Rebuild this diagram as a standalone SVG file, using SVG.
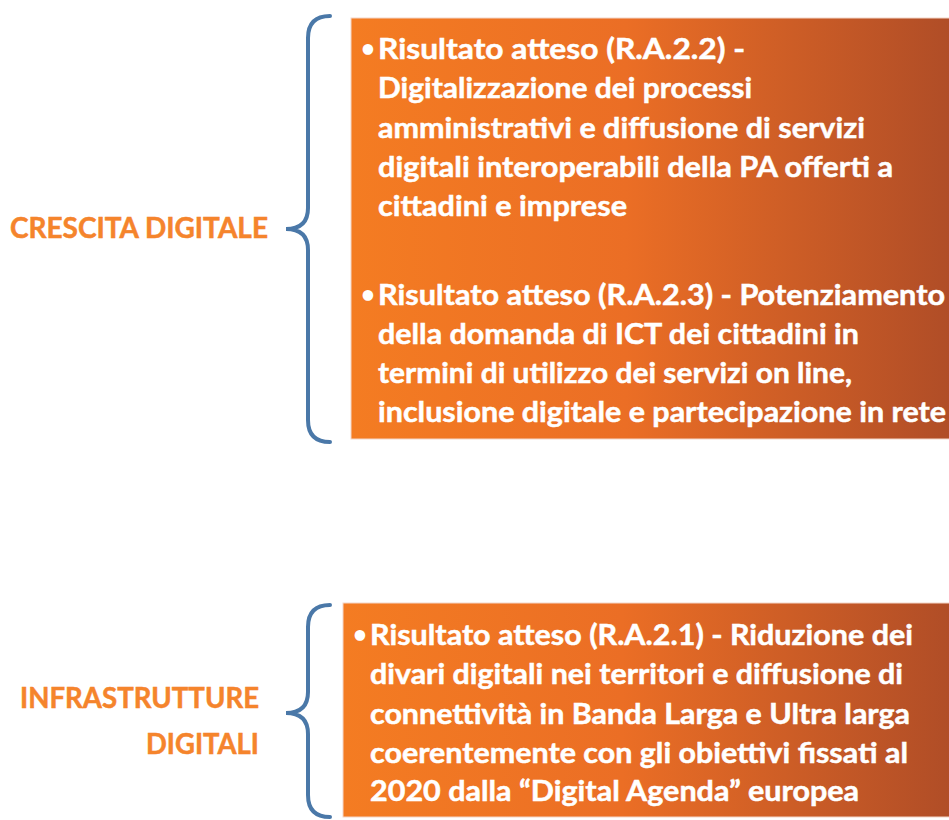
<svg xmlns="http://www.w3.org/2000/svg" width="949" height="820" viewBox="0 0 949 820">
<defs>
<linearGradient id="og" x1="0" y1="0" x2="1" y2="0">
<stop offset="0" stop-color="#F47C22"/>
<stop offset="0.45" stop-color="#EB6E25"/>
<stop offset="1" stop-color="#AE4C27"/>
</linearGradient>
</defs>
<style>
.box{fill:url(#og);stroke:#F3D6C8;stroke-width:1}
.brace{fill:none;stroke:#4A78A8;stroke-width:4;stroke-linecap:round}
.t{font-family:Lato,"Open Sans","Liberation Sans",sans-serif;font-weight:bold;font-size:29px;fill:#FFFFFF;stroke:#FFFFFF;stroke-width:0.5}
.b{font-family:Lato,"Open Sans","Liberation Sans",sans-serif;font-weight:bold;font-size:24px;fill:#FFFFFF}
.lbl{font-family:Lato,"Open Sans","Liberation Sans",sans-serif;font-weight:bold;font-size:28px;fill:#F5842C;stroke:#F5842C;stroke-width:0.5}
</style>
<rect width="949" height="820" fill="#FFFFFF"/>
<g id="connectors">
<path class="brace" d="M330,16 Q308,16 308,38 L308,208 Q308,229 286,229 Q308,229 308,250 L308,420 Q308,442 330,442"/>
<path class="brace" d="M330,605 Q308,605 308,627 L308,692 Q308,713 286,713 Q308,713 308,734 L308,795 Q308,817 330,817"/>
</g>
<g id="label-crescita">
<text class="lbl" x="10" y="238" textLength="258" lengthAdjust="spacingAndGlyphs">CRESCITA DIGITALE</text>
</g>
<g id="label-infrastrutture">
<text class="lbl" x="259" y="708" text-anchor="end" textLength="239" lengthAdjust="spacingAndGlyphs">INFRASTRUTTURE</text>
<text class="lbl" x="259" y="754" text-anchor="end" textLength="113" lengthAdjust="spacingAndGlyphs">DIGITALI</text>
</g>
<g id="box-crescita">
<rect class="box" x="351" y="18" width="610" height="421"/>
<text class="b" x="361" y="57">•</text>
<text class="t" x="378" y="59" textLength="367" lengthAdjust="spacingAndGlyphs">Risultato atteso (R.A.2.2) -</text>
<text class="t" x="378" y="98" textLength="374" lengthAdjust="spacingAndGlyphs">Digitalizzazione dei processi</text>
<text class="t" x="378" y="138" textLength="487" lengthAdjust="spacingAndGlyphs">amministrativi e diffusione di servizi</text>
<text class="t" x="378" y="177" textLength="515" lengthAdjust="spacingAndGlyphs">digitali interoperabili della PA offerti a</text>
<text class="t" x="378" y="216" textLength="249" lengthAdjust="spacingAndGlyphs">cittadini e imprese</text>
<text class="b" x="361" y="303">•</text>
<text class="t" x="378" y="305" textLength="567" lengthAdjust="spacingAndGlyphs">Risultato atteso (R.A.2.3) - Potenziamento</text>
<text class="t" x="378" y="344" textLength="481" lengthAdjust="spacingAndGlyphs">della domanda di ICT dei cittadini in</text>
<text class="t" x="378" y="383" textLength="474" lengthAdjust="spacingAndGlyphs">termini di utilizzo dei servizi on line,</text>
<text class="t" x="378" y="422" textLength="568" lengthAdjust="spacingAndGlyphs">inclusione digitale e partecipazione in rete</text>
</g>
<g id="box-infrastrutture">
<rect class="box" x="343" y="603" width="620" height="214"/>
<text class="b" x="353" y="643">•</text>
<text class="t" x="370" y="645" textLength="543" lengthAdjust="spacingAndGlyphs">Risultato atteso (R.A.2.1) - Riduzione dei</text>
<text class="t" x="370" y="684" textLength="533" lengthAdjust="spacingAndGlyphs">divari digitali nei territori e diffusione di</text>
<text class="t" x="370" y="724" textLength="540" lengthAdjust="spacingAndGlyphs">connettività in Banda Larga e Ultra larga</text>
<text class="t" x="370" y="763" textLength="538" lengthAdjust="spacingAndGlyphs">coerentemente con gli obiettivi fissati al</text>
<text class="t" x="370" y="801" textLength="489" lengthAdjust="spacingAndGlyphs">2020 dalla “Digital Agenda” europea</text>
</g>
</svg>
